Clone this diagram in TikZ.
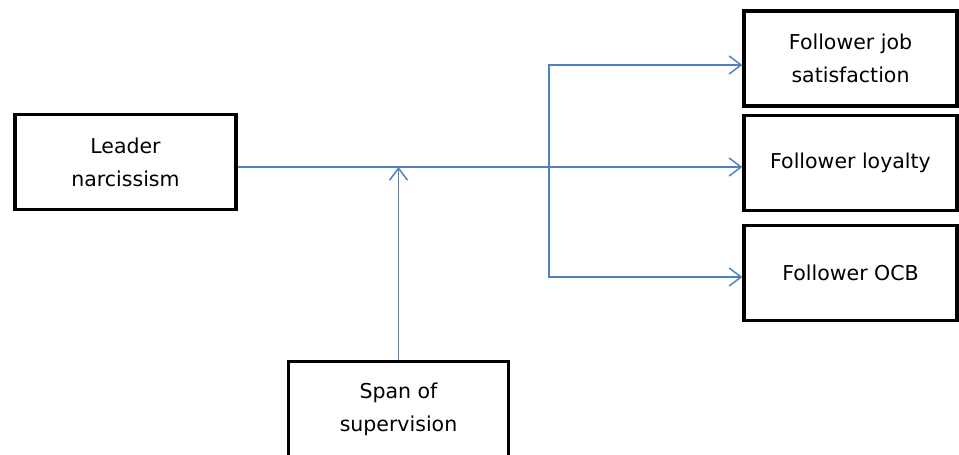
\documentclass[tikz,border=0pt]{standalone}
\usepackage{fontspec}
\setmainfont{DejaVu Sans}
\usetikzlibrary{arrows.meta}

\definecolor{linkblue}{RGB}{79,129,189}

\begin{document}
\begin{tikzpicture}[
    x=1pt, y=-1pt,
    font=\fontsize{20.5}{33}\selectfont,
    link/.style={draw=linkblue, line width=1.5pt},
    linkarrow/.style={link, -{Straight Barb[length=12pt, width=18pt, line width=1.5pt]}},
    varbox/.style={
        draw=black,
        line width=3.2pt,
        fill=white,
        minimum width=221pt,
        minimum height=95pt,
        align=center,
        inner sep=0pt
    },
    outcome/.style={
        varbox,
        minimum width=213pt
    }
]

\clip (0,0) rectangle (959,455);
\path[use as bounding box] (0,0) rectangle (959,455);

\node[varbox] (leader) at (125.5,162) {Leader\\narcissism};

\node[outcome] (job) at (850.5,58.5) {Follower job\\satisfaction};
\node[outcome] (loyalty) at (850.5,163) {Follower loyalty};
\node[outcome] (ocb) at (850.5,273) {Follower OCB};

\node[varbox, minimum width=220pt] (span) at (398.5,409) {Span of\\supervision};

\coordinate (hub) at (549,167);

\draw[link] (leader.east |- hub) -- (hub);
\draw[linkarrow] (hub) -- (loyalty.west |- hub);
\draw[linkarrow] (hub) |- ([yshift=-6.5pt]job.west);
\draw[linkarrow] (hub) |- ([yshift=-4pt]ocb.west);
\draw[linkarrow] (span.north) -- (span.north |- hub);

\end{tikzpicture}
\end{document}
